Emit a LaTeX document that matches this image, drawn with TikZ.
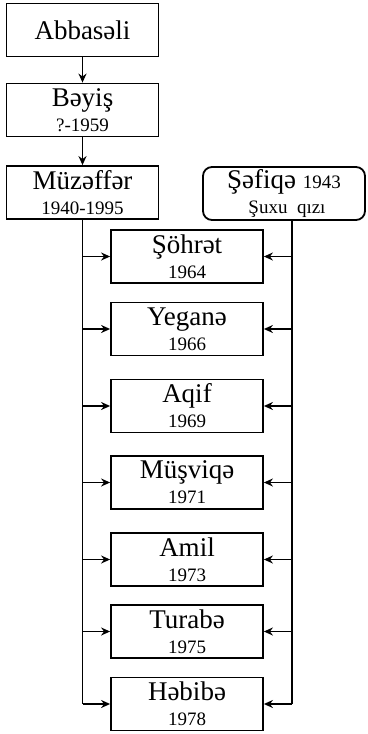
\documentclass[tikz,border=0pt]{standalone}
\usepackage{fontspec}
\setmainfont{Liberation Serif}
\usetikzlibrary{arrows.meta}

\newcommand{\yr}[1]{{\fontsize{19}{25}\selectfont #1}}

\tikzset{
	person/.style={draw, line width=1.8pt, minimum width=152pt, minimum height=53pt,
		inner sep=0pt, align=center, font=\fontsize{27}{25}\selectfont},
	spouse/.style={person, minimum width=162pt, rounded corners=9pt},
	arr/.style={line width=1.8pt, -{Stealth[length=9pt,width=8pt]}},
	trunk/.style={line width=1.8pt}
}

\begin{document}
\begin{tikzpicture}[x=1pt,y=-1pt]
	\useasboundingbox (0,0) rectangle (367,734);

	% ancestors
	\node[person] (abbas) at (82.5,30) {Abbasəli};
	\node[person] (beyis) at (82.5,110) {Bəyiş\\\yr{?-1959}};
	\node[person] (muzaffar) at (82.5,192.5) {Müzəffər\\\yr{1940-1995}};
	\node[spouse] (safiqa) at (284,193.5) {Şəfiqə \yr{1943}\\\yr{\hspace*{6pt}Şuxu\ \ qızı}};

	% children
	\node[person] (sohrat) at (187,256.5) {Şöhrət\\\yr{1964}};
	\node[person] (yegana) at (187,329) {Yeganə\\\yr{1966}};
	\node[person] (aqif) at (187,406) {Aqif\\\yr{1969}};
	\node[person] (musviqa) at (187,482.5) {Müşviqə\\\yr{1971}};
	\node[person] (amil) at (187,559.5) {Amil\\\yr{1973}};
	\node[person] (turaba) at (187,631.5) {Turabə\\\yr{1975}};
	\node[person] (habiba) at (187,704) {Həbibə\\\yr{1978}};

	% descent
	\draw[arr] (abbas) -- (beyis);
	\draw[arr] (beyis) -- (muzaffar);

	% trunks
	\coordinate (rtrunk) at (292,0);
	\draw[trunk] (muzaffar.south) -- (muzaffar.south |- habiba.west);
	\draw[trunk] (safiqa.south -| rtrunk) -- (habiba.east -| rtrunk);

	% branches
	\foreach \kid in {sohrat,yegana,aqif,musviqa,amil,turaba,habiba} {
		\draw[arr] (muzaffar.south |- \kid.west) -- (\kid.west);
		\draw[arr] (rtrunk |- \kid.east) -- (\kid.east);
	}

\end{tikzpicture}
\end{document}
